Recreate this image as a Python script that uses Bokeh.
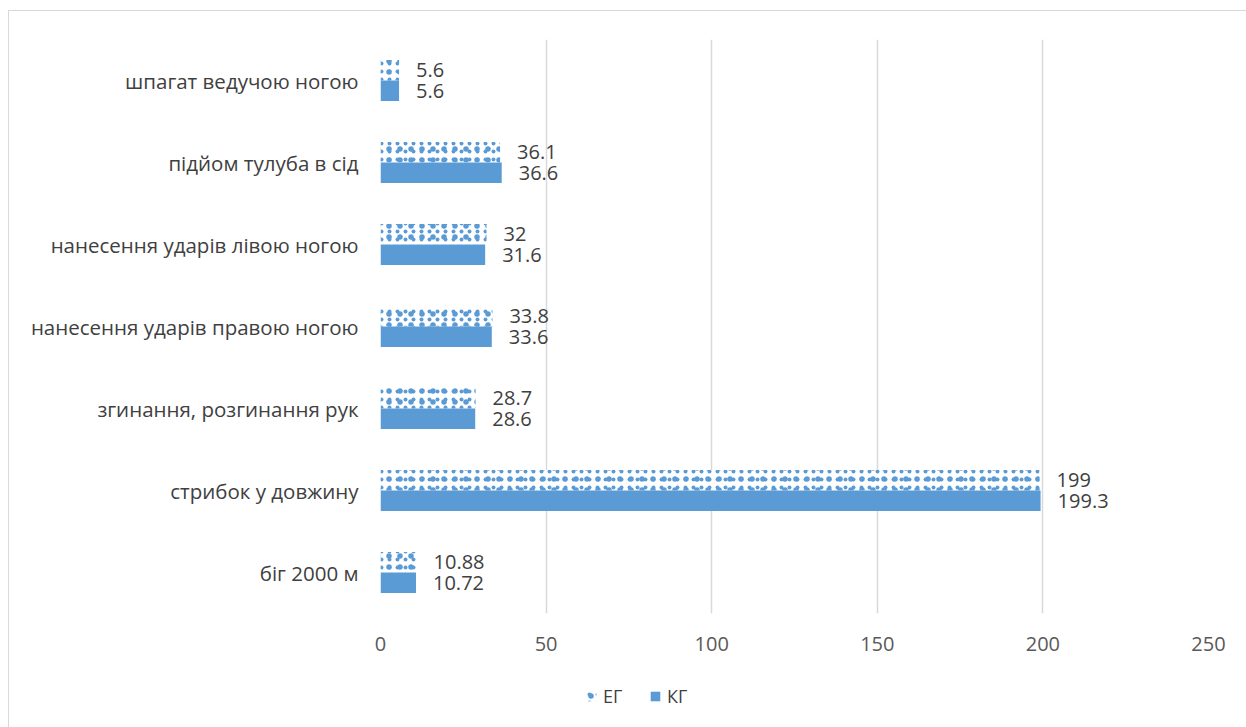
from bokeh.core.properties import value
from bokeh.embed import file_html
from bokeh.layouts import column
from bokeh.models import ColumnDataSource, FactorRange, LabelSet, Legend, LegendItem, Range1d
from bokeh.plotting import figure
from bokeh.resources import INLINE
from bokeh.transform import dodge

# ---- data -----------------------------------------------------------------
categories = [
    "шпагат ведучою ногою",
    "підйом тулуба в сід",
    "нанесення ударів лівою ногою",
    "нанесення ударів правою ногою",
    "згинання, розгинання рук",
    "стрибок у довжину",
    "біг 2000 м",
]
eg_values = [5.6, 36.1, 32, 33.8, 28.7, 199, 10.88]
kg_values = [5.6, 36.6, 31.6, 33.6, 28.6, 199.3, 10.72]
eg_labels = ["5.6", "36.1", "32", "33.8", "28.7", "199", "10.88"]
kg_labels = ["5.6", "36.6", "31.6", "33.6", "28.6", "199.3", "10.72"]
x_ticks = [0, 50, 100, 150, 200, 250]
series_names = ["ЕГ", "КГ"]

BLUE = "#5B9BD5"
TEXT = "#404040"
FONT = "Open Sans"

# ЕГ fill: two overlaid dot hatches of different pitch give a confetti look
EG_BASE = dict(fill_color="white", line_color=None,
               hatch_pattern="dot", hatch_color=BLUE, hatch_scale=8)
EG_OVER = dict(fill_alpha=0, line_color=None,
               hatch_pattern="dot", hatch_color=BLUE, hatch_scale=11)
KG_STYLE = dict(fill_color=BLUE, line_color=None)

source = ColumnDataSource(dict(
    cat=categories, eg=eg_values, kg=kg_values, eg_txt=eg_labels, kg_txt=kg_labels,
))

y_range = FactorRange(*reversed(categories), range_padding=0)

p = figure(
    width=1237, height=650,
    y_range=y_range, x_range=(0, 250),
    output_backend="svg", toolbar_location=None,
    min_border_left=371, min_border_right=38,
    min_border_top=28, min_border_bottom=48,
    outline_line_color=None,
)

eg_y = dodge("cat", 0.125, range=p.y_range)
p.hbar(y=eg_y, right="eg", left=0, height=0.25, source=source, **EG_BASE)
p.hbar(y=eg_y, right="eg", left=0, height=0.25, source=source, **EG_OVER)
p.hbar(y=dodge("cat", -0.125, range=p.y_range), right="kg", left=0, height=0.25,
       source=source, **KG_STYLE)

for col, num, off in (("eg_txt", "eg", 0.125), ("kg_txt", "kg", -0.125)):
    p.add_layout(LabelSet(
        x=num, y=dodge("cat", off, range=p.y_range), text=col,
        source=source, x_offset=17, text_baseline="middle", text_align="left",
        text_font=value(FONT), text_font_size="20px", text_color=TEXT,
    ))

# axes
p.xaxis.ticker = x_ticks
p.xaxis.axis_line_color = None
p.xaxis.major_tick_line_color = None
p.xaxis.minor_tick_line_color = None
p.xaxis.major_label_text_font = FONT
p.xaxis.major_label_text_font_size = "20px"
p.xaxis.major_label_text_color = "#595959"
p.xaxis.major_label_standoff = 17

p.yaxis.axis_line_color = None
p.yaxis.major_tick_line_color = None
p.yaxis.major_label_text_font = FONT
p.yaxis.major_label_text_font_size = "20.5px"
p.yaxis.major_label_text_color = TEXT
p.yaxis.major_label_standoff = 16

p.ygrid.grid_line_color = None
p.xgrid.grid_line_color = "#d9d9d9"
p.xgrid.grid_line_width = 1.5

# ---- legend strip under the chart ----------------------------------------
lg = figure(
    width=1237, height=66, x_range=Range1d(0, 1), y_range=Range1d(0, 1),
    output_backend="svg", toolbar_location=None, x_axis_type=None, y_axis_type=None,
    min_border=0, outline_line_color=None,
)
lg.xgrid.visible = False
lg.ygrid.visible = False
# key glyphs only; placed outside the visible range
eg_key1 = lg.hbar(y=[-5], right=[1], left=[0], height=0.25, **EG_BASE)
eg_key2 = lg.hbar(y=[-5], right=[1], left=[0], height=0.25, **EG_OVER)
kg_key = lg.hbar(y=[-5], right=[1], left=[0], height=0.25, **KG_STYLE)
legend = Legend(
    items=[LegendItem(label=series_names[0], renderers=[eg_key1, eg_key2]),
           LegendItem(label=series_names[1], renderers=[kg_key])],
    orientation="horizontal", location=(205, 19),
    border_line_color=None, background_fill_alpha=0,
    label_text_font=FONT, label_text_font_size="18px", label_text_color=TEXT,
    glyph_width=12, glyph_height=12, spacing=26, label_standoff=6,
)
lg.add_layout(legend, "center")

layout = column(p, lg, spacing=0)
layout.margin = (10, 0, 0, 8)
layout.styles = {"border-left": "1px solid #d9d9d9", "border-top": "1px solid #d9d9d9"}

open("out.html", "w").write(file_html(layout, INLINE))
